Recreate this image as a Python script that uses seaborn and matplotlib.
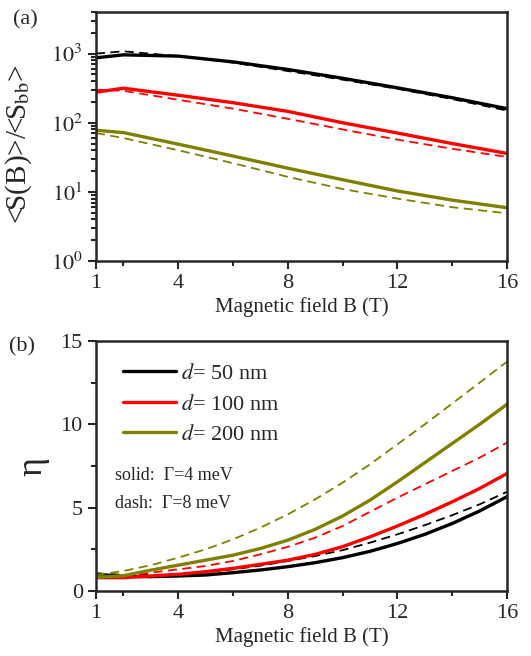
import matplotlib
matplotlib.use("Agg")
import matplotlib.pyplot as plt
import matplotlib.ticker as mticker
from matplotlib.lines import Line2D
import numpy as np
import pandas as pd
import seaborn as sns

sns.set_style("ticks")
plt.rcParams["font.family"] = ["Liberation Serif", "DejaVu Serif"]
plt.rcParams["mathtext.fontset"] = "stix"

# panel (a): <S(B)>/<S_bb>, log scale
Ba = [1, 2, 4, 6, 8, 10, 12, 14, 16]
s50_solid = [870, 960, 920, 760, 590, 440, 320, 230, 160]
s50_dash = [1000, 1080, 920, 740, 560, 420, 310, 220, 150]
s100_solid = [277, 316, 250, 195, 146, 100, 71, 50, 36]
s100_dash = [300, 290, 215, 160, 114, 80, 57, 42, 32]
s200_solid = [78, 72, 49, 33, 22, 15, 10.3, 7.6, 5.9]
s200_dash = [71, 60, 40, 26, 16.5, 11, 8.0, 6.0, 4.9]

# panel (b): eta
Bb = [1, 2, 3, 4, 5, 6, 7, 8, 9, 10, 11, 12, 13, 14, 15, 16]
e50_solid = [1.0, 0.88, 0.86, 0.9, 0.96, 1.1, 1.26, 1.46, 1.7, 2.0, 2.38,
             2.85, 3.4, 4.05, 4.8, 5.66]
e50_dash = [1.06, 0.97, 0.96, 1.0, 1.12, 1.3, 1.52, 1.8, 2.1, 2.45, 2.9,
            3.4, 3.95, 4.55, 5.2, 5.95]
e100_solid = [0.8, 0.8, 0.9, 1.0, 1.16, 1.36, 1.6, 1.85, 2.2, 2.66, 3.25,
              3.9, 4.6, 5.35, 6.15, 7.05]
e100_dash = [0.86, 0.9, 1.1, 1.3, 1.5, 1.8, 2.2, 2.65, 3.2, 3.9, 4.75,
             5.6, 6.4, 7.2, 8.0, 8.9]
e200_solid = [0.82, 0.92, 1.25, 1.55, 1.85, 2.15, 2.55, 3.05, 3.7, 4.5, 5.45,
              6.55, 7.7, 8.85, 10.0, 11.2]
e200_dash = [0.96, 1.2, 1.55, 2.0, 2.5, 3.1, 3.8, 4.6, 5.5, 6.5, 7.6,
             8.8, 10.0, 11.25, 12.5, 13.76]

labels = ["50", "100", "200"]
colors = {"50": "black", "100": "#ff0000", "200": "#808000"}


def long_frame(xs, series):
    rows = []
    for (d, g), vals in series.items():
        for b, v in zip(xs, vals):
            rows.append({"B": b, "val": v, "d": d, "gamma": g})
    return pd.DataFrame(rows)


dfa = long_frame(Ba, {
    ("50", "4"): s50_solid, ("50", "8"): s50_dash,
    ("100", "4"): s100_solid, ("100", "8"): s100_dash,
    ("200", "4"): s200_solid, ("200", "8"): s200_dash,
})
dfb = long_frame(Bb, {
    ("50", "4"): e50_solid, ("50", "8"): e50_dash,
    ("100", "4"): e100_solid, ("100", "8"): e100_dash,
    ("200", "4"): e200_solid, ("200", "8"): e200_dash,
})

fig = plt.figure(figsize=(5.31, 6.56), dpi=100)
ax1 = fig.add_axes([96 / 531, 1 - 261 / 656, 411 / 531, 249 / 656])
ax2 = fig.add_axes([96 / 531, 1 - 591 / 656, 411 / 531, 250 / 656])


def draw(ax, df):
    for d in labels:
        sub = df[(df["d"] == d) & (df["gamma"] == "4")]
        sns.lineplot(data=sub, x="B", y="val", ax=ax, color=colors[d],
                     lw=2.4, legend=False)
        sub = df[(df["d"] == d) & (df["gamma"] == "8")]
        sns.lineplot(data=sub, x="B", y="val", ax=ax, color=colors[d],
                     lw=1.3, legend=False)
        ax.lines[-1].set_linestyle((0, (5, 3)))


draw(ax1, dfa)
draw(ax2, dfb)

for ax in (ax1, ax2):
    ax.set_xlim(1, 16)
    ax.set_xticks([1, 4, 8, 12, 16])
    ax.xaxis.set_minor_locator(mticker.FixedLocator([2, 6, 10, 14]))
    ax.set_xlabel("Magnetic field B (T)", fontsize=15, labelpad=3)
    ax.tick_params(axis="both", which="major", direction="out", length=6,
                   width=1.5, labelsize=16)
    ax.tick_params(axis="both", which="minor", direction="out", length=3.5,
                   width=1.5)
    for s in ax.spines.values():
        s.set_linewidth(1.8)

ax1.set_yscale("log")
ax1.set_ylim(1, 4000)
ax1.set_yticks([1, 10, 100, 1000])
ax1.yaxis.set_major_formatter(mticker.FuncFormatter(
    lambda v, p: "$10^{%d}$" % round(np.log10(v))))
ax1.yaxis.set_minor_locator(mticker.LogLocator(base=10, subs=np.arange(2, 10)))
ax1.yaxis.set_minor_formatter(mticker.NullFormatter())
ax1.set_ylabel(r"<S(B)>/<S$_{\mathrm{bb}}$>", fontsize=21, labelpad=0)
ax1.yaxis.set_label_coords(-0.15, 0.47)

ax2.set_ylim(0, 15)
ax2.set_yticks([0, 5, 10, 15])
ax2.yaxis.set_minor_locator(mticker.FixedLocator([2.5, 7.5, 12.5]))
ax2.set_ylabel("\u03b7", fontsize=26, labelpad=8)

handles = [Line2D([], [], color=colors[d], lw=2.4) for d in labels]
names = [r"$d$= %s nm" % d for d in labels]
ax2.legend(handles, names, loc="upper left", bbox_to_anchor=(0.066, 0.91),
           frameon=False, fontsize=16, handlelength=2.4, handletextpad=0.2,
           labelspacing=0.45, borderpad=0, borderaxespad=0)

ax2.text(0.047, 0.46, "solid:  \u0393=4 meV", transform=ax2.transAxes,
         fontsize=13, va="center")
ax2.text(0.047, 0.348, "dash:  \u0393=8 meV", transform=ax2.transAxes,
         fontsize=13, va="center")

fig.text(13 / 531, 1 - 20 / 656, "(a)", fontsize=16, va="center")
fig.text(9 / 531, 1 - 347 / 656, "(b)", fontsize=16, va="center")

fig.savefig("out.png", dpi=100)
